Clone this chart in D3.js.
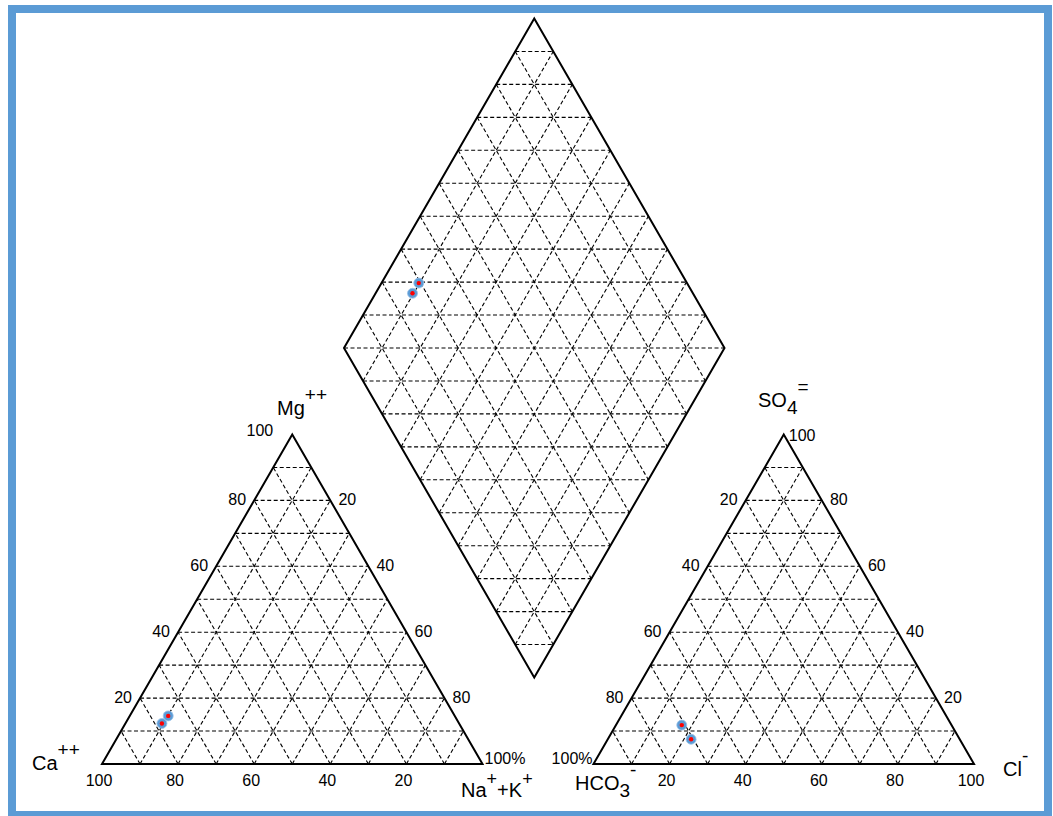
<!DOCTYPE html>
<html>
<head>
<meta charset="utf-8">
<script src="https://cdn.jsdelivr.net/npm/d3@7"></script>
<style>
  html, body { margin: 0; padding: 0; background: #fff; }
  svg { display: block; font-family: "Liberation Sans", Arial, sans-serif; }
</style>
</head>
<body>
<svg id="piper" width="1053" height="816"></svg>
<script>
// Sample compositions, percent of meq/L
const cationCa  = [75.3, 78.1];
const cationMg  = [14.6, 12.3];
const cationNaK = [10.1, 9.6];

const anionHCO3 = [70.9, 70.6];
const anionSO4  = [11.8, 7.5];
const anionCl   = [17.3, 21.9];

// Projected positions in the central field: Na+K and Cl+SO4
const diamondNaK   = [9.8, 9.7];
const diamondClSO4 = [29.5, 26.3];

// Tick labels
const gridSteps  = [10, 20, 30, 40, 50, 60, 70, 80, 90];
const edgeTicks  = [20, 40, 60, 80];
const caTicks    = [100, 80, 60, 40, 20];
const clTicks    = [20, 40, 60, 80, 100];
const diamondLevels = d3.range(-90, 100, 10);

const svg = d3.select("#piper");

// frame
svg.append("rect")
  .attr("x", 12).attr("y", 9)
  .attr("width", 1036).attr("height", 806)
  .attr("fill", "none")
  .attr("stroke", "#5b9bd5")
  .attr("stroke-width", 8);

// scales
const side = 380.5, h = side * Math.sqrt(3) / 2;
const baseY = 764;
const yTri = d3.scaleLinear().domain([0, 100]).range([baseY, baseY - h]);
const xLeft = d3.scaleLinear().domain([0, 100]).range([102, 102 + side]);
const xRight = d3.scaleLinear().domain([0, 100]).range([593.5, 593.5 + side]);

// central field: x from (n+s), y from (s-n)
const dLeftX = 344, dMidY = 348;
const xDia = d3.scaleLinear().domain([0, 200]).range([dLeftX, dLeftX + side]);
const yDia = d3.scaleLinear().domain([-100, 100]).range([dMidY + h, dMidY - h]);

// cation triangle: (NaK, Mg) -> screen
const catPt = (nak, mg) => [xLeft(nak + mg / 2), yTri(mg)];
// anion triangle: (Cl, SO4) -> screen
const anPt = (cl, so4) => [xRight(cl + so4 / 2), yTri(so4)];
// central field: (n, s) -> screen
const diaPt = (n, s) => [xDia(n + s), yDia(s - n)];

const line = d3.line();

function gridLine(g, a, b) {
  g.append("path")
    .attr("d", line([a, b]))
    .attr("fill", "none")
    .attr("stroke", "#000")
    .attr("stroke-width", 1.1)
    .attr("stroke-dasharray", "4,2.5");
}

function outline(pts) {
  svg.append("path")
    .attr("d", line(pts) + "Z")
    .attr("fill", "none")
    .attr("stroke", "#000")
    .attr("stroke-width", 2)
    .attr("stroke-linejoin", "miter");
}

// ---------- grids ----------
const gGrid = svg.append("g");
gridSteps.forEach(k => {
  // cation triangle
  gridLine(gGrid, catPt(0, k), catPt(100 - k, k));          // const Mg
  gridLine(gGrid, catPt(k, 0), catPt(k, 100 - k));          // const Na+K
  gridLine(gGrid, catPt(100 - k, 0), catPt(0, 100 - k));    // const Ca
  // anion triangle
  gridLine(gGrid, anPt(0, k), anPt(100 - k, k));
  gridLine(gGrid, anPt(k, 0), anPt(k, 100 - k));
  gridLine(gGrid, anPt(100 - k, 0), anPt(0, 100 - k));
  // central field
  gridLine(gGrid, diaPt(k, 0), diaPt(k, 100));
  gridLine(gGrid, diaPt(0, k), diaPt(100, k));
});
diamondLevels.forEach(d => {
  if (d >= 0) gridLine(gGrid, diaPt(0, d), diaPt(100 - d, 100));
  else gridLine(gGrid, diaPt(-d, 0), diaPt(100, 100 + d));
});

// ---------- outlines ----------
outline([catPt(0, 0), catPt(100, 0), catPt(0, 100)]);
outline([anPt(0, 0), anPt(100, 0), anPt(0, 100)]);
outline([diaPt(0, 0), diaPt(100, 0), diaPt(100, 100), diaPt(0, 100)]);

// ---------- samples ----------
function marker(p) {
  svg.append("circle").attr("cx", p[0]).attr("cy", p[1]).attr("r", 5)
    .attr("fill", "#5b9bd5").attr("stroke", "#9cc3ea").attr("stroke-width", 0.8);
  svg.append("circle").attr("cx", p[0]).attr("cy", p[1]).attr("r", 2.2)
    .attr("fill", "#ff0000");
}
cationMg.forEach((mg, i) => marker(catPt(cationNaK[i], mg)));
anionSO4.forEach((so4, i) => marker(anPt(anionCl[i], so4)));
diamondNaK.forEach((n, i) => marker(diaPt(n, diamondClSO4[i])));

// ---------- tick labels ----------
const tick = (x, y, t, anchor) => svg.append("text")
  .attr("x", x).attr("y", y).attr("text-anchor", anchor || "middle")
  .attr("font-size", 16).attr("fill", "#000").text(t);

caTicks.forEach(v => { const p = catPt(100 - v, 0); tick(p[0] - 3, p[1] + 22, v); });
clTicks.forEach(v => { const p = anPt(v, 0); tick(p[0] - 3, p[1] + 22, v); });

edgeTicks.forEach(v => {
  let p = catPt(0, v);             tick(p[0] - 17, p[1] + 5, v);   // Mg
  p = catPt(v, 100 - v);           tick(p[0] + 17, p[1] + 5, v);   // Na+K
  p = anPt(0, 100 - v);            tick(p[0] - 17, p[1] + 5, v);   // HCO3
  p = anPt(100 - v, v);            tick(p[0] + 17, p[1] + 5, v);   // SO4
});
{
  let p = catPt(0, 100); tick(p[0] - 19, p[1] + 2, "100", "end");
  p = anPt(0, 100);      tick(p[0] + 5, p[1] + 7, "100", "start");
  p = catPt(100, 0);     tick(p[0] + 2, p[1], "100%", "start");
  p = anPt(0, 0);        tick(p[0] - 1, p[1], "100%", "end");
}

// ---------- ion labels ----------
function ion(x, y, parts, supRise = 14, supSize = 19) {
  const t = svg.append("text").attr("x", x).attr("y", y)
    .attr("font-size", 20).attr("fill", "#000");
  let shift = 0;
  parts.forEach(([s, kind]) => {
    let target = kind === "sup" ? -supRise : kind === "sub" ? 7 : 0;
    const ts = t.append("tspan").attr("dy", target - shift).text(s);
    if (kind) ts.attr("font-size", supSize);
    shift = target;
  });
}
ion(277, 415, [["Mg"], ["++", "sup"]]);
ion(32, 770, [["Ca"], ["++", "sup"]]);
ion(461, 797, [["Na"], ["+", "sup"], ["+K"], ["+", "sup"]], 12, 18);
ion(758, 407, [["SO"], ["4", "sub"], ["=", "sup"]]);
ion(575, 790, [["HCO"], ["3", "sub"], ["-", "sup"]]);
ion(1003, 776, [["Cl"], ["-", "sup"]]);
</script>
</body>
</html>
